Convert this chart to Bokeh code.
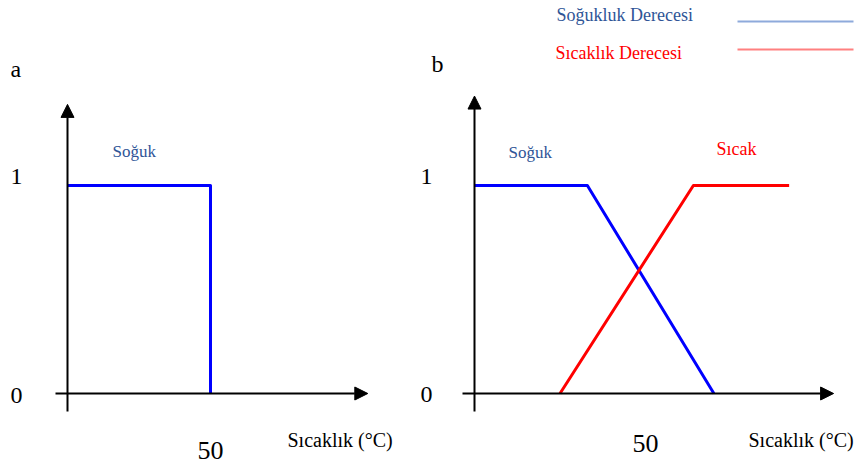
from bokeh.plotting import figure
from bokeh.layouts import row
from bokeh.models import Range1d, Arrow, NormalHead, Label
from bokeh.embed import file_html
from bokeh.resources import INLINE

# ---- data ----
soguk_a_x = [0, 50, 50]
soguk_a_y = [1, 1, 0]
soguk_b_x = [0, 33, 70]
soguk_b_y = [1, 1, 0]
sicak_b_x = [25, 64, 92]
sicak_b_y = [0, 1, 1]
y_ticks = [0, 1]
y_tick_labels = ["0", "1"]
x_tick = 50
x_tick_label = "50"
x_title = "Sıcaklık (°C)"
legend_labels = ["Soğukluk Derecesi", "Sıcaklık Derecesi"]

FONT = "Liberation Serif"
BLUE = "#0000ff"
RED = "#ff0000"
TXT_BLUE = "#2f5597"

PAGE_TOP, H = 0, 464
OY, SY = 393.0, 208.0  # page y of membership 0, px per unit
TEXT_DY = -7  # renderer places baseline a bit lower


class Panel:
    def __init__(self, left, width, ox, sx):
        self.left, self.width, self.ox, self.sx = left, width, ox, sx
        p = figure(width=width, height=H, output_backend="svg", toolbar_location=None,
                   x_range=Range1d((left - ox) / sx, (left + width - ox) / sx),
                   y_range=Range1d((OY - (PAGE_TOP + H)) / SY, (OY - PAGE_TOP) / SY),
                   min_border=0, x_axis_type=None, y_axis_type=None)
        p.grid.visible = False
        p.outline_line_color = None
        self.p = p

    def dx(self, px):
        return (px - self.ox) / self.sx

    def dy(self, py):
        return (OY - py) / SY

    def text(self, txt, px, py, size, color="black", align="left", x=None):
        self.p.add_layout(Label(x=self.dx(px) if x is None else x, y=self.dy(py + TEXT_DY),
                                text=txt, text_font=FONT,
                                text_font_size=f"{size}px", text_color=color,
                                text_align=align, text_baseline="alphabetic"))

    def axes(self, ytip):
        for (xs, ys, xe, ye) in [(self.dx(self.ox - 12), 0, 105, 0),
                                 (0, self.dy(OY + 18), 0, ytip)]:
            self.p.add_layout(Arrow(x_start=xs, y_start=ys, x_end=xe, y_end=ye, line_width=2,
                                    line_color="black",
                                    end=NormalHead(size=13, fill_color="black", line_color="black")))


# ---- panel a ----
A = Panel(0, 418, 67, 2.86)
A.axes(1.39)
A.p.line(soguk_a_x, soguk_a_y, line_color=BLUE, line_width=3, line_join="round")
A.text("a", 10, 75, 24)
for v, t in zip(y_ticks, y_tick_labels):
    A.text(t, 16, 402 if v == 0 else 183, 24, align="center")
A.text(x_tick_label, 0, 457, 26, align="center", x=x_tick)
A.text(x_title, 287, 446, 20)
A.text("Soğuk", 112, 158, 17, TXT_BLUE)

# ---- panel b ----
B = Panel(418, 436, 474, 3.42)
B.axes(1.43)
B.p.line(soguk_b_x, soguk_b_y, line_color=BLUE, line_width=3, line_join="round")
B.p.line(sicak_b_x, sicak_b_y, line_color=RED, line_width=3, line_join="round")
B.text("b", 431, 70, 24)
for v, t in zip(y_ticks, y_tick_labels):
    B.text(t, 426, 401 if v == 0 else 183, 24, align="center")
B.text(x_tick_label, 0, 450, 26, align="center", x=x_tick)
B.text(x_title, 748, 446, 20)
B.text("Soğuk", 508, 159, 17, TXT_BLUE)
B.text("Sıcak", 716, 155, 18, RED)

# legend
B.text(legend_labels[0], 556, 21, 18, TXT_BLUE)
B.text(legend_labels[1], 555, 59, 18, RED)
B.p.line([B.dx(737), B.dx(853)], [B.dy(21), B.dy(21)], line_color="#8eaadb", line_width=2)
B.p.line([B.dx(737), B.dx(853)], [B.dy(49), B.dy(49)], line_color="#ff8080", line_width=2)

layout = row(A.p, B.p, spacing=0)
open("out.html", "w").write(file_html(layout, INLINE))
